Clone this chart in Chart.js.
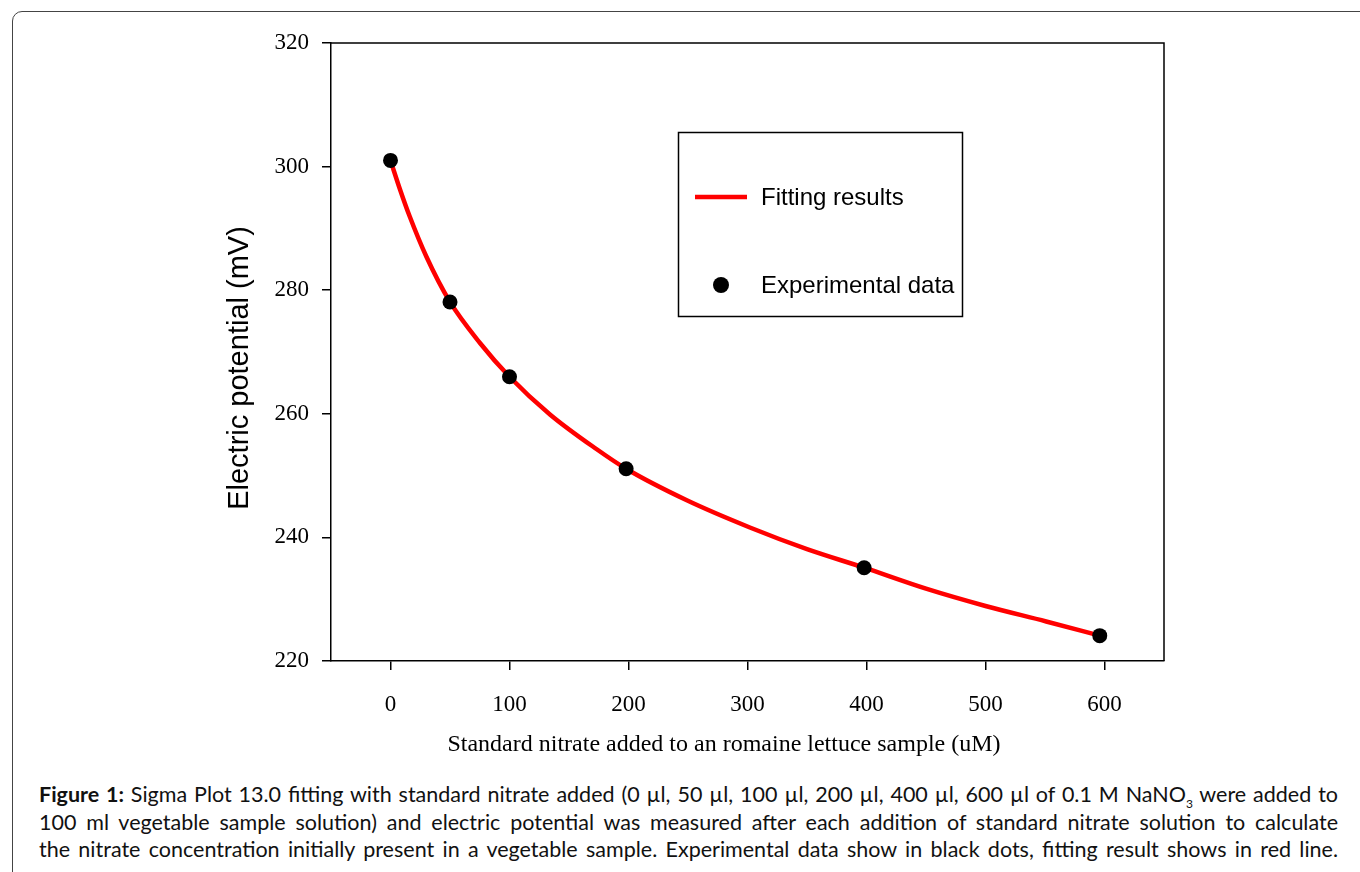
<!DOCTYPE html>
<html>
<head>
<meta charset="utf-8">
<script src="https://cdn.jsdelivr.net/npm/chart.js@4.4.1/dist/chart.umd.min.js"></script>
<style>
  body { margin: 0; background: #fff; }
  #page { position: relative; width: 1360px; height: 872px; overflow: hidden; }
  #frame {
    position: absolute; left: 12px; top: 11px; width: 1400px; height: 920px;
    border: 1.5px solid #444; border-radius: 10px;
  }
  #chartBox { position: absolute; left: 0; top: 0; width: 1360px; height: 770px; }
  #caption {
    position: absolute; left: 39px; top: 781px; width: 1299px;
    font-family: Lato, "Open Sans", sans-serif; font-size: 21.5px; line-height: 27.5px; color: #111;
  }
  #caption div { height: 27.5px; text-align: justify; text-align-last: justify; white-space: nowrap; }
  #caption .sub { font-size: 12px; position: relative; top: 6px; line-height: 0; }
</style>
</head>
<body>
<div id="page">
  <div id="frame"></div>
  <div id="chartBox"><canvas id="fitChart"></canvas></div>
  <div id="caption">
    <div><b>Figure 1:</b> Sigma Plot 13.0 fitting with standard nitrate added (0 µl, 50 µl, 100 µl, 200 µl, 400 µl, 600 µl of 0.1 M NaNO<span class="sub">3</span> were added to</div>
    <div>100 ml vegetable sample solution) and electric potential was measured after each addition of standard nitrate solution to calculate</div>
    <div>the nitrate concentration initially present in a vegetable sample. Experimental data show in black dots, fitting result shows in red line.</div>
  </div>
</div>
<script>
// experimental points
const expX = [0, 50, 100, 198, 398, 596];
const expY = [301.0, 278.1, 266.0, 251.1, 235.1, 224.1];

// fitted curve, sampled along the red line
const fitX = [0, 8, 16, 30, 50, 75, 100, 134, 173, 198, 249, 302, 350, 398, 450, 500, 551, 596];
const fitY = [301.0, 296.3, 292.0, 285.5, 278.1, 271.5, 266.0, 259.9, 254.3, 251.1, 246.0, 241.6, 238.1, 235.1, 231.7, 228.9, 226.4, 224.1];

const xTicks = [0, 100, 200, 300, 400, 500, 600];
const yTicks = [220, 240, 260, 280, 300, 320];

const xTitle = 'Standard nitrate added to an romaine lettuce sample (uM)';
const yTitle = 'Electric potential (mV)';

const pts = (xs, ys) => xs.map((x, i) => ({ x: x, y: ys[i] }));

// box round the plot, axis titles and the legend box
const extras = {
    id: 'extras',
    afterDatasetsDraw(chart) {
        const ctx = chart.ctx;
        const a = chart.chartArea;
        ctx.save();
        ctx.strokeStyle = '#000';
        ctx.lineWidth = 1.5;
        ctx.beginPath();
        ctx.moveTo(a.left, a.top);
        ctx.lineTo(a.right, a.top);
        ctx.lineTo(a.right, a.bottom);
        ctx.stroke();

        // axis titles
        ctx.fillStyle = '#000';
        ctx.font = '24px "Liberation Serif", "Times New Roman", serif';
        ctx.textAlign = 'center';
        ctx.textBaseline = 'alphabetic';
        ctx.fillText(xTitle, 724, 751);

        ctx.save();
        ctx.translate(240, 368);
        ctx.rotate(-Math.PI / 2);
        ctx.font = '29px "Liberation Sans", Arial, sans-serif';
        ctx.textBaseline = 'middle';
        ctx.fillText(yTitle, 0, 0);
        ctx.restore();

        // legend
        const fit = chart.data.datasets[1];
        const exp = chart.data.datasets[0];
        ctx.lineWidth = 1.5;
        ctx.strokeStyle = '#000';
        ctx.strokeRect(678.5, 132.5, 284, 184);
        ctx.strokeStyle = fit.borderColor;
        ctx.lineWidth = fit.borderWidth;
        ctx.beginPath();
        ctx.moveTo(695, 197);
        ctx.lineTo(747, 197);
        ctx.stroke();
        ctx.fillStyle = exp.backgroundColor;
        ctx.beginPath();
        ctx.arc(721, 285, 8, 0, Math.PI * 2);
        ctx.fill();
        ctx.fillStyle = '#000';
        ctx.font = '24px "Liberation Sans", Arial, sans-serif';
        ctx.textAlign = 'left';
        ctx.textBaseline = 'middle';
        ctx.fillText(fit.label, 761, 198);
        ctx.fillText(exp.label, 761, 286);
        ctx.restore();
    }
};

const ctx = document.getElementById('fitChart').getContext('2d');
new Chart(ctx, {
    type: 'line',
    data: {
        datasets: [{
            label: 'Experimental data',
            data: pts(expX, expY),
            showLine: false,
            pointRadius: 7.5,
            pointBackgroundColor: '#000',
            pointBorderWidth: 0,
            backgroundColor: '#000',
            borderColor: '#000',
            order: 0
        }, {
            label: 'Fitting results',
            data: pts(fitX, fitY),
            borderColor: '#ff0000',
            borderWidth: 4.5,
            pointRadius: 0,
            fill: false,
            cubicInterpolationMode: 'monotone',
            order: 1
        }]
    },
    plugins: [extras],
    options: {
        responsive: true,
        maintainAspectRatio: false,
        animation: false,
        layout: { padding: { top: 43, right: 196, bottom: 0, left: 0 } },
        plugins: {
            legend: { display: false },
            tooltip: { enabled: false }
        },
        scales: {
            x: {
                type: 'linear',
                min: -50,
                max: 650,
                afterBuildTicks: scale => { scale.ticks = xTicks.map(v => ({ value: v })); },
                afterFit: scale => { scale.height = 109; },
                border: { color: '#000', width: 1.5 },
                grid: { drawOnChartArea: false, drawTicks: true, tickLength: 9, color: '#000', lineWidth: 1.5 },
                ticks: {
                    color: '#000',
                    padding: 21,
                    maxRotation: 0,
                    font: { family: '"Liberation Serif", "Times New Roman", serif', size: 23 }
                }
            },
            y: {
                min: 220,
                max: 320,
                afterBuildTicks: scale => { scale.ticks = yTicks.map(v => ({ value: v })); },
                afterFit: scale => { scale.width = 331; },
                border: { color: '#000', width: 1.5 },
                grid: { drawOnChartArea: false, drawTicks: true, tickLength: 9, color: '#000', lineWidth: 1.5 },
                ticks: {
                    color: '#000',
                    padding: 13,
                    font: { family: '"Liberation Serif", "Times New Roman", serif', size: 23 }
                }
            }
        }
    }
});
</script>
</body>
</html>
